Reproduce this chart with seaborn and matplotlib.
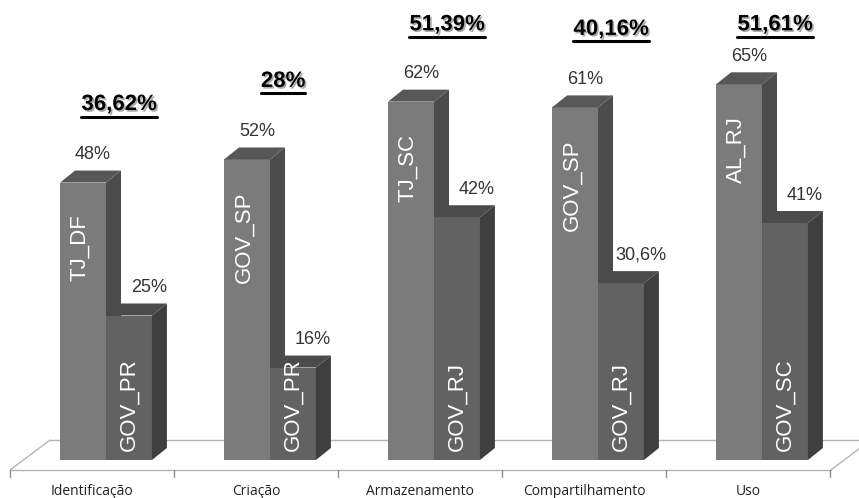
import numpy as np
import pandas as pd
import matplotlib
matplotlib.use("Agg")
import matplotlib.pyplot as plt
import matplotlib.patheffects as pe
from matplotlib.lines import Line2D
import seaborn as sns

# ---- data ----
categories = ["Identificação", "Criação", "Armazenamento", "Compartilhamento", "Uso"]
first_values = [48, 52, 62, 61, 65]
second_values = [25, 16, 42, 30.6, 41]
first_names = ["TJ_DF", "GOV_SP", "TJ_SC", "GOV_SP", "AL_RJ"]
second_names = ["GOV_PR", "GOV_PR", "GOV_RJ", "GOV_RJ", "GOV_SC"]
first_value_labels = ["48%", "52%", "62%", "61%", "65%"]
second_value_labels = ["25%", "16%", "42%", "30,6%", "41%"]
group_labels = ["36,62%", "28%", "51,39%", "40,16%", "51,61%"]

df = pd.DataFrame({
    "categoria": categories * 2,
    "serie": ["A"] * len(categories) + ["B"] * len(categories),
    "valor": first_values + second_values,
})

sns.set_theme(style="white")
plt.rcParams["font.family"] = ["Liberation Sans", "DejaVu Sans"]

W, H = 859, 498
fig = plt.figure(figsize=(W / 100, H / 100), dpi=100)
px_per_unit_x = 164.0
px_per_unit_y = 5.78
base_px = 460
ax = fig.add_axes([0, (H - base_px) / H, 1, base_px / H])

front_colors = {"A": "#7b7b7b", "B": "#626262"}
side_colors = {"A": "#4c4c4c", "B": "#3f3f3f"}
top_colors = {"A": "#575757", "B": "#4b4b4b"}

sns.barplot(data=df, x="categoria", y="valor", hue="serie", order=categories,
            hue_order=["A", "B"], palette=front_colors, width=0.56,
            linewidth=0, saturation=1, legend=False, ax=ax)

ax.set_xlim(-106 / px_per_unit_x, (W - 106) / px_per_unit_x)
ax.set_ylim(0, base_px / px_per_unit_y)
ax.axis("off")

dx = 15 / px_per_unit_x
dy = 12 / px_per_unit_y

# floor
fl_front = -10 / px_per_unit_y
fl_back = 20 / px_per_unit_y
x_front_l = -0.585
x_front_r = 4.42
x_back_l = x_front_l + 40 / px_per_unit_x
x_back_r = x_front_r + 40 / px_per_unit_x
floor_c = "#b4b4b4"
for xs, ys in (([x_front_l, x_front_r], [fl_front, fl_front]),
               ([x_back_l, x_back_r + 0.2], [fl_back, fl_back]),
               ([x_front_l, x_back_l], [fl_front, fl_back]),
               ([x_front_r, x_back_r], [fl_front, fl_back])):
    ax.add_line(Line2D(xs, ys, color=floor_c, lw=1.0, clip_on=False, zorder=0.5))
for i in range(len(categories) + 1):
    xt = x_front_l + i * 1.0
    ax.add_line(Line2D([xt, xt], [fl_front, fl_front - 7 / px_per_unit_y], color="#909090",
                       lw=1.0, clip_on=False, zorder=0.5))

# 3D faces, drawn per category: bar A then bar B
contA, contB = ax.containers[0], ax.containers[1]
z = 2
for i in range(len(categories)):
    for serie, cont in (("A", contA), ("B", contB)):
        p = cont.patches[i]
        x0 = p.get_x()
        w = p.get_width()
        h = p.get_height()
        p.set_zorder(z)
        ax.fill([x0 + w, x0 + w + dx, x0 + w + dx, x0 + w],
                [0, dy, h + dy, h], color=side_colors[serie], lw=0, zorder=z)
        ax.fill([x0, x0 + dx, x0 + w + dx, x0 + w],
                [h, h + dy, h + dy, h], color=top_colors[serie], lw=0, zorder=z)
        z += 1

# in-bar labels, value labels, category labels
for i in range(len(categories)):
    pa = contA.patches[i]
    pb = contB.patches[i]
    ca = pa.get_x() + pa.get_width() / 2
    cb = pb.get_x() + pb.get_width() / 2
    ha_ = pa.get_height()
    hb_ = pb.get_height()
    ax.text(ca - 0.02, ha_ - 32 / px_per_unit_y, first_names[i], rotation=90, ha="center", va="top",
            color="white", fontsize=16, zorder=50)
    ax.text(cb, 9 / px_per_unit_y, second_names[i], rotation=90, ha="center", va="bottom",
            color="white", fontsize=16, zorder=50)
    ax.text(ca + 0.06, ha_ + 4.8, first_value_labels[i], ha="center", va="center",
            color="#333333", fontsize=13, zorder=50)
    ax.text(cb + 0.12, hb_ + 4.8, second_value_labels[i], ha="center", va="center",
            color="#333333", fontsize=13, zorder=50)
    ax.text(i - 0.085, -31 / px_per_unit_y, categories[i], ha="center", va="center",
            color="#222222", fontsize=10, family=["Open Sans", "DejaVu Sans"], clip_on=False, zorder=50)

# group headings (bold, underlined, shadow)
shadow = [pe.SimplePatchShadow(offset=(1.2, -1.2), shadow_rgbFace="#888888", alpha=0.7), pe.Normal()]
heads = []
for i in range(len(categories)):
    top = max(first_values[i], second_values[i])
    yh = min(top + 13.5, 75.3)
    t = ax.text(i + 0.08, yh, group_labels[i], ha="center", va="center", color="black",
                fontsize=16, fontweight="bold", zorder=60, path_effects=shadow, clip_on=False)
    heads.append(t)

fig.canvas.draw()
renderer = fig.canvas.get_renderer()
for t in heads:
    bb = t.get_window_extent(renderer=renderer)
    yline = bb.y0 - 1.5
    fig.add_artist(Line2D([bb.x0 / W, bb.x1 / W], [yline / H, yline / H],
                          color="black", lw=2.2, path_effects=shadow))

fig.savefig("out.png", dpi=100)
